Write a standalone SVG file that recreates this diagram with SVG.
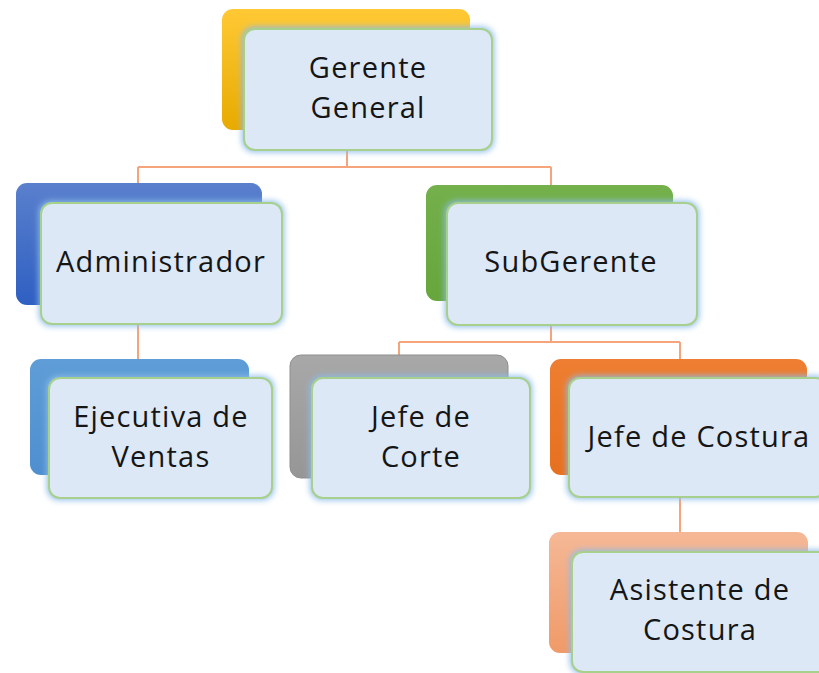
<svg xmlns="http://www.w3.org/2000/svg" width="819" height="673" viewBox="0 0 819 673">
<style>
.front{fill:#dce8f5;stroke:#a8d08d;stroke-width:2;filter:url(#glow)}
.t{font-family:"Open Sans","Liberation Sans",sans-serif;font-size:29px;fill:#151515;text-anchor:middle;letter-spacing:1.2px}
.conn{fill:none;stroke:#f5a47c;stroke-width:2}
</style>
<defs>
<filter id="glow" x="-10%" y="-15%" width="120%" height="130%">
<feMorphology in="SourceAlpha" operator="dilate" radius="1" result="d"/>
<feGaussianBlur in="d" stdDeviation="3" result="b"/>
<feFlood flood-color="#8dbde9" flood-opacity="1"/>
<feComposite in2="b" operator="in" result="g"/>
<feMerge><feMergeNode in="g"/><feMergeNode in="SourceGraphic"/></feMerge>
</filter>
<linearGradient id="gGold" x1="0" y1="0" x2="0" y2="1"><stop offset="0" stop-color="#ffc935"/><stop offset="1" stop-color="#e8aa00"/></linearGradient>
<linearGradient id="gBlue" x1="0" y1="0" x2="0" y2="1"><stop offset="0" stop-color="#5a80cd"/><stop offset="1" stop-color="#2e5fc2"/></linearGradient>
<linearGradient id="gGreen" x1="0" y1="0" x2="0" y2="1"><stop offset="0" stop-color="#74b04b"/><stop offset="1" stop-color="#66a63c"/></linearGradient>
<linearGradient id="gLBlue" x1="0" y1="0" x2="0" y2="1"><stop offset="0" stop-color="#5e9dd6"/><stop offset="1" stop-color="#4f8fd0"/></linearGradient>
<linearGradient id="gGray" x1="0" y1="0" x2="0" y2="1"><stop offset="0" stop-color="#a8a8a8"/><stop offset="1" stop-color="#969696"/></linearGradient>
<linearGradient id="gOrange" x1="0" y1="0" x2="0" y2="1"><stop offset="0" stop-color="#ee7e31"/><stop offset="1" stop-color="#e6701f"/></linearGradient>
<linearGradient id="gPeach" x1="0" y1="0" x2="0" y2="1"><stop offset="0" stop-color="#f5b896"/><stop offset="1" stop-color="#f09a68"/></linearGradient>
</defs>
<g id="connectors" class="conn">
<path d="M347,150 V167 M138,167 H551 M138,167 V185 M551,167 V187"/>
<path d="M138,324 V361"/>
<path d="M551,325 V342 M399,342 H680 M399,342 V357 M680,342 V361"/>
<path d="M680,497 V534"/>
</g>
<g id="gerente-general">
<rect x="222" y="9" width="248" height="121" rx="11" fill="url(#gGold)"/>
<rect class="front" x="244" y="29" width="248" height="121" rx="11"/>
<text class="t" x="368" y="78">Gerente</text>
<text class="t" x="368" y="118">General</text>
</g>
<g id="administrador">
<rect x="16" y="183" width="246" height="122" rx="11" fill="url(#gBlue)"/>
<rect class="front" x="41" y="203" width="241" height="121" rx="11"/>
<text class="t" x="161" y="272">Administrador</text>
</g>
<g id="subgerente">
<rect x="426" y="185" width="247" height="116" rx="11" fill="url(#gGreen)"/>
<rect class="front" x="447" y="203" width="250" height="122" rx="11"/>
<text class="t" x="571" y="272">SubGerente</text>
</g>
<g id="ejecutiva-de-ventas">
<rect x="30" y="359" width="219" height="116" rx="11" fill="url(#gLBlue)"/>
<rect class="front" x="49" y="378" width="223" height="120" rx="11"/>
<text class="t" x="161" y="427">Ejecutiva de</text>
<text class="t" x="161" y="467">Ventas</text>
</g>
<g id="jefe-de-corte">
<rect x="290" y="355" width="218" height="123" rx="11" fill="url(#gGray)" stroke="#8f8f8f" stroke-width="1"/>
<rect class="front" x="312" y="378" width="218" height="120" rx="11"/>
<text class="t" x="421" y="427">Jefe de</text>
<text class="t" x="421" y="467">Corte</text>
</g>
<g id="jefe-de-costura">
<rect x="550" y="359" width="257" height="116" rx="11" fill="url(#gOrange)"/>
<rect class="front" x="569" y="378" width="258" height="119" rx="11"/>
<text class="t" x="699" y="447">Jefe de Costura</text>
</g>
<g id="asistente-de-costura">
<rect x="549" y="532" width="259" height="121" rx="11" fill="url(#gPeach)"/>
<rect class="front" x="572" y="552" width="258" height="120" rx="11"/>
<text class="t" x="700" y="600">Asistente de</text>
<text class="t" x="700" y="640">Costura</text>
</g>
</svg>
